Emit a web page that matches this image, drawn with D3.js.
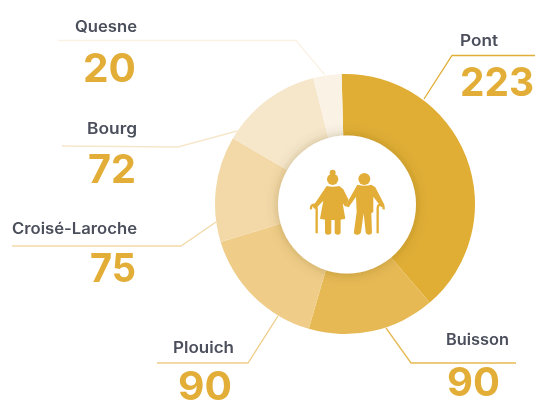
<!DOCTYPE html>
<html><head><meta charset="utf-8">
<script src="https://cdn.jsdelivr.net/npm/d3@7"></script>
<style>html,body{margin:0;padding:0;background:#fff;overflow:hidden}svg{display:block;filter:blur(.35px)}</style>
</head><body><svg id="c" width="536" height="401"></svg>
<script>
const categories = ["Pont","Buisson","Plouich","Croisé-Laroche","Bourg","Quesne"];
const values = [223,90,90,75,72,20];
const colors = ["#E0AE35","#E6B954","#EFCD88","#F3D9A8","#F6E7CB","#FAF2E5"];
const nameEnd = [[498,46],[509,345],[234,353],[137,234],[137,134],[137,32]];
const nameWidth = [38,63,61,125,50,62];
const numEnd = [[534,96],[500,396],[232,400],[136,282],[136,183],[136,82]];
const numWidth = [74,53,54,46,48,53];
const leaders = [
 [[424,99],[452,55.5],[535,55.5]],
 [[386,328],[411,363],[516,363]],
 [[278,316],[248,363],[157,363]],
 [[216,222],[181,246],[12,246]],
 [[237,131],[178,147],[62,146]],
 [[325,75],[296,40.5],[58,40.5]]
];
const cx=345, cy=204, R=130, r=69;
const svg=d3.select("#c");
const defs=svg.append("defs");
const f=defs.append("filter").attr("id","sh").attr("x","-30%").attr("y","-30%").attr("width","160%").attr("height","160%");
f.append("feDropShadow").attr("dx",0).attr("dy",0).attr("stdDeviation",6).attr("flood-color","#5a4510").attr("flood-opacity",.3);

const line=d3.line();
svg.append("g").selectAll("path").data(leaders).join("path")
 .attr("d",d=>line(d)).attr("fill","none").attr("stroke-width",1.3)
 .attr("stroke",(d,i)=>colors[i]);

const pie=d3.pie().sort(null).startAngle(-1.5*Math.PI/180).endAngle((358.5)*Math.PI/180);
const arc=d3.arc().innerRadius(r-4).outerRadius(R);
const g=svg.append("g").attr("transform",`translate(${cx},${cy})`);
g.selectAll("path").data(pie(values)).join("path").attr("d",arc).attr("fill",(d,i)=>colors[i]);
g.append("circle").attr("cx",2).attr("cy",0.5).attr("r",r).attr("fill","#fff").attr("filter","url(#sh)");

const font="Inter, 'Open Sans', sans-serif";
svg.append("g").selectAll("text").data(categories).join("text")
 .text(d=>d).attr("x",(d,i)=>nameEnd[i][0]-nameWidth[i]).attr("y",(d,i)=>nameEnd[i][1])
 .attr("textLength",(d,i)=>nameWidth[i]).attr("lengthAdjust","spacingAndGlyphs")
 .attr("font-family",font).attr("font-weight",600).attr("font-size",15.5).attr("fill","#4b4f5c");
svg.append("g").selectAll("text").data(values).join("text")
 .text(d=>d).attr("x",(d,i)=>numEnd[i][0]-numWidth[i]).attr("y",(d,i)=>numEnd[i][1])
 .attr("textLength",(d,i)=>numWidth[i]).attr("lengthAdjust","spacingAndGlyphs")
 .attr("font-family",font).attr("font-weight",700).attr("font-size",40).attr("fill","#E2AE38");

const icon=svg.append("g").attr("transform","translate(270,150) scale(.3333)").attr("fill","#E2AE38");
icon.append("circle").attr("cx",188).attr("cy",88).attr("r",17);
icon.append("circle").attr("cx",188).attr("cy",68).attr("r",9);
icon.append("circle").attr("cx",283).attr("cy",87).attr("r",18);
icon.append("path").attr("d","M170 108 Q188 112 208 108 L220 118 L236 150 L226 170 L218 160 L226 206 L212 209 L212 247 Q212 254 204 254 Q194 254 194 247 L194 210 L184 210 L184 247 Q184 254 174 254 Q165 254 165 247 L165 209 L150 206 L160 152 L135 178 L128 170 Z");
icon.append("path").attr("d","M262 104 Q284 110 304 104 L316 112 L344 166 L334 172 L310 140 L310 186 L304 190 L306 247 Q306 254 296 254 Q288 254 287 247 L281 190 L273 247 Q271 254 261 254 Q251 254 252 245 L260 186 L258 140 L236 172 L226 168 Z");
icon.append("path").attr("fill","none").attr("stroke","#E2AE38").attr("stroke-width",7).attr("d","M123 178 Q122 164 132 164 Q140 164 140 176 L140 250");
icon.append("path").attr("fill","none").attr("stroke","#E2AE38").attr("stroke-width",7).attr("d","M341 178 Q342 164 332 164 Q323 164 323 176 L323 250");
</script></body></html>
